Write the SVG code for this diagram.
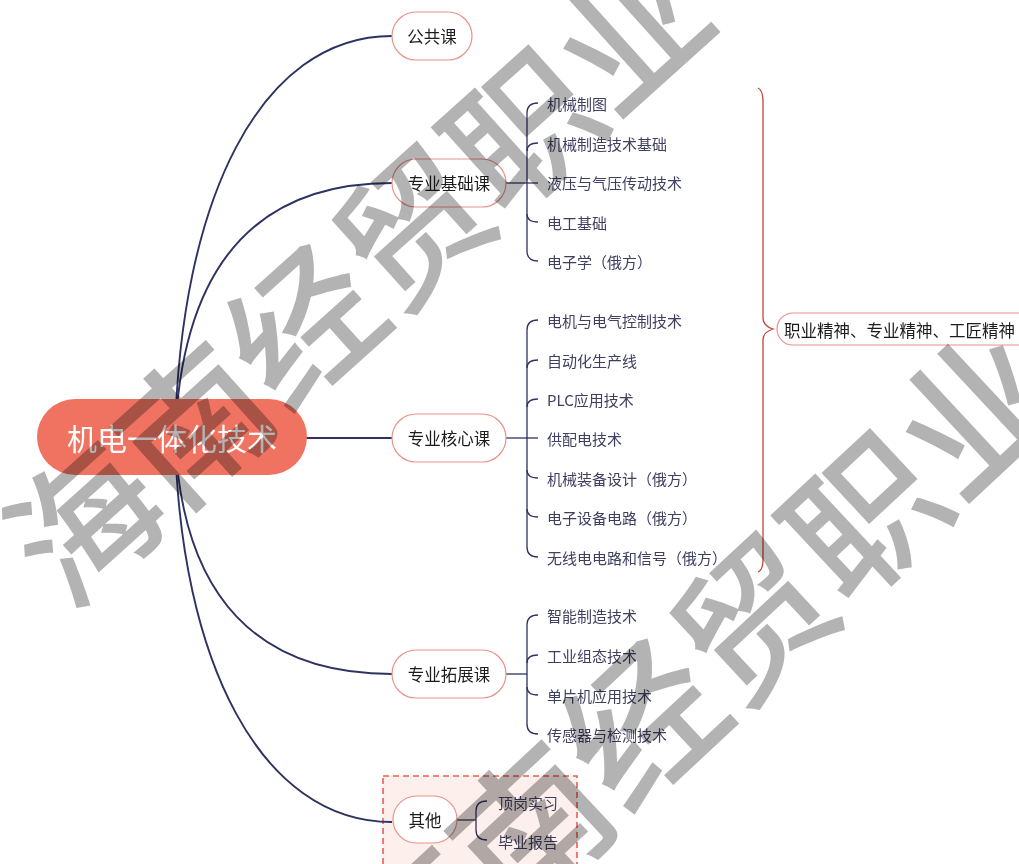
<svg xmlns="http://www.w3.org/2000/svg" width="1019" height="864" viewBox="0 0 1019 864">
<style>
.bg{fill:#ffffff}
.main{fill:none;stroke:#2e3262;stroke-width:1.9}
.br{fill:none;stroke:#2e3262;stroke-width:1.3}
.red{fill:none;stroke:#c4453f;stroke-width:1.3}
.pill{fill:#ffffff;stroke:#e9928a;stroke-width:1.2}
.nt{font-family:"Noto Sans CJK SC","Liberation Sans",sans-serif;font-size:16.5px;fill:#1c1c1c;dominant-baseline:central}
.lt{font-family:"Noto Sans CJK SC","Liberation Sans",sans-serif;font-size:15px;fill:#3f4060;dominant-baseline:central}
.wm{font-family:"Noto Sans CJK SC","Liberation Sans",sans-serif;font-weight:500;fill:#b3b3b3;mix-blend-mode:multiply;dominant-baseline:central;text-anchor:middle}
</style>
<rect class="bg" x="0" y="0" width="1019" height="864"/>
<g id="other-box">
<rect x="383" y="776" width="194" height="100" fill="#fdefeb" stroke="#e8604f" stroke-width="1.6" stroke-dasharray="6 4"/>
</g>
<g id="connectors">
<path class="main" d="M175,437 C180,200 260,36 392,36"/>
<path class="main" d="M175,437 C182,260 260,183 392,183"/>
<path class="main" d="M306,438 L392,438"/>
<path class="main" d="M175,437 C182,600 260,674 392,674"/>
<path class="main" d="M175,437 C180,660 260,822 392,822"/>
<path class="br" d="M506,183 L538,183"/>
<path class="br" d="M538,103 Q527,103 527,113 L527,251 Q527,261 538,261"/>
<path class="br" d="M527,151 Q527,143 538,143"/>
<path class="br" d="M527,214 Q527,222 538,222"/>
<path class="br" d="M506,438 L538,438"/>
<path class="br" d="M538,320 Q527,320 527,330 L527,547 Q527,557 538,557"/>
<path class="br" d="M527,368 Q527,360 538,360"/>
<path class="br" d="M527,407 Q527,399 538,399"/>
<path class="br" d="M527,470 Q527,478 538,478"/>
<path class="br" d="M527,509 Q527,517 538,517"/>
<path class="br" d="M506,674 L527,674"/>
<path class="br" d="M538,615 Q527,615 527,625 L527,724 Q527,734 538,734"/>
<path class="br" d="M527,663 Q527,655 538,655"/>
<path class="br" d="M527,687 Q527,695 538,695"/>
<path class="br" d="M457,820 L476,820"/>
<path class="br" d="M487,801 Q476,801 476,811 L476,830 Q476,840 487,840"/>
<path class="red" d="M758,88 Q763,90 763,102 L763,318 Q763,326 773,329 Q763,332 763,340 L763,560 Q763,570 758,572"/>
</g>
<g id="root">
<rect x="37" y="399" width="270" height="76" rx="38" fill="#f07362"/>
<text x="172" y="437" text-anchor="middle" font-family="Noto Sans CJK SC, Liberation Sans, sans-serif" font-size="30" fill="#ffffff" dominant-baseline="central">机电一体化技术</text>
</g>
<g id="n-gonggong">
<rect class="pill" x="392" y="12" width="80" height="48" rx="24"/>
<text class="nt" x="432" y="36" text-anchor="middle">公共课</text>
</g>
<g id="n-jichu">
<rect class="pill" x="392" y="159" width="114" height="48" rx="24"/>
<text class="nt" x="449" y="183" text-anchor="middle">专业基础课</text>
</g>
<g id="n-hexin">
<rect class="pill" x="392" y="414" width="114" height="48" rx="24"/>
<text class="nt" x="449" y="438" text-anchor="middle">专业核心课</text>
</g>
<g id="n-tuozhan">
<rect class="pill" x="392" y="650" width="114" height="48" rx="24"/>
<text class="nt" x="449" y="674" text-anchor="middle">专业拓展课</text>
</g>
<g id="n-qita">
<rect class="pill" x="393" y="796" width="64" height="47" rx="23.5"/>
<text class="nt" x="425" y="820" text-anchor="middle">其他</text>
</g>
<g id="n-jingshen">
<rect class="pill" x="777" y="313" width="262" height="32" rx="16"/>
<text class="nt" x="784" y="330">职业精神、专业精神、工匠精神</text>
</g>
<g id="leaves-jichu">
<text class="lt" x="547" y="103">机械制图</text>
<text class="lt" x="547" y="143">机械制造技术基础</text>
<text class="lt" x="547" y="182">液压与气压传动技术</text>
<text class="lt" x="547" y="222">电工基础</text>
<text class="lt" x="547" y="261">电子学（俄方）</text>
</g>
<g id="leaves-hexin">
<text class="lt" x="547" y="320">电机与电气控制技术</text>
<text class="lt" x="547" y="360">自动化生产线</text>
<text class="lt" x="547" y="399">PLC应用技术</text>
<text class="lt" x="547" y="438">供配电技术</text>
<text class="lt" x="547" y="478">机械装备设计（俄方）</text>
<text class="lt" x="547" y="517">电子设备电路（俄方）</text>
<text class="lt" x="547" y="557">无线电电路和信号（俄方）</text>
</g>
<g id="leaves-tuozhan">
<text class="lt" x="547" y="615">智能制造技术</text>
<text class="lt" x="547" y="655">工业组态技术</text>
<text class="lt" x="547" y="695">单片机应用技术</text>
<text class="lt" x="547" y="734">传感器与检测技术</text>
</g>
<g id="leaves-qita">
<text class="lt" x="498" y="802">顶岗实习</text>
<text class="lt" x="498" y="841">毕业报告</text>
</g>
<g id="watermark">
<text class="wm" font-size="147" transform="translate(352,270) rotate(-42)">海南经贸职业</text>
<text class="wm" font-size="152" transform="translate(692,665) rotate(-43)">海南经贸职业</text>
</g>
</svg>
